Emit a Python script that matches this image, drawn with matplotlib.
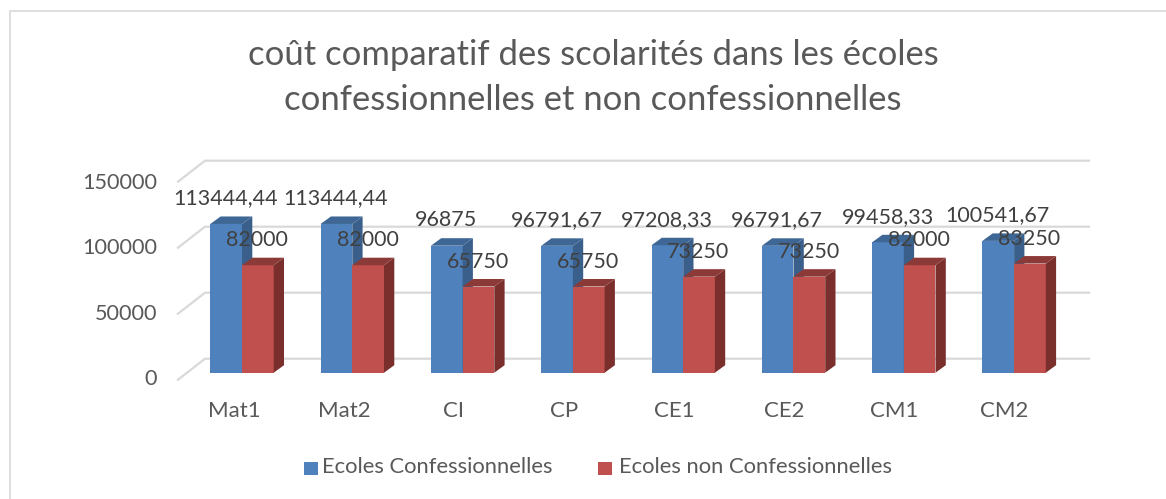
import matplotlib
matplotlib.use("Agg")
import matplotlib.pyplot as plt
from matplotlib.patches import Polygon, Rectangle

categories = ["Mat1", "Mat2", "CI", "CP", "CE1", "CE2", "CM1", "CM2"]
confessionnelles = [113444.44, 113444.44, 96875, 96791.67, 97208.33, 96791.67, 99458.33, 100541.67]
non_confessionnelles = [82000, 82000, 65750, 65750, 73250, 73250, 82000, 83250]
confessionnelles_txt = ["113444,44", "113444,44", "96875", "96791,67", "97208,33", "96791,67", "99458,33", "100541,67"]
non_confessionnelles_txt = ["82000", "82000", "65750", "65750", "73250", "73250", "82000", "83250"]
y_ticks = [0, 50000, 100000, 150000]

W, H = 1166, 499
TXT = "#595959"
LABEL = "#404040"
GRID = "#D9D9D9"
BLUE = ("#4F81BD", "#3A5F8B", "#3E6795")
RED = ("#C0504D", "#7A2F2D", "#8C3A38")

PX_X = 110.3          # pixels per category
PX_Y = 1.311 / 1000   # pixels per unit
X0 = 242              # pixel of first group's centre
Y0 = 372.7            # pixel of bar floor
BAR = 31.7 / PX_X
DX = 10.3 / PX_X      # depth offset of the bars
DY = 7.5 / PX_Y

plt.rcParams["font.family"] = ["Lato", "DejaVu Sans"]

fig = plt.figure(figsize=(W / 100, H / 100), dpi=100)
ax = fig.add_axes([0, 0, 1, 1])
ax.set_xlim(-X0 / PX_X, (W - X0) / PX_X)
ax.set_ylim(-(H - Y0) / PX_Y, Y0 / PX_Y)
ax.axis("off")


def px(x, y):
    return (x - X0) / PX_X, (Y0 - y) / PX_Y


# outer frame, only left and top are in the picture
ax.plot(*zip(px(9.5, H + 5), px(9.5, 11), px(W + 5, 11)), color="#DEDEDE", lw=1.4)

# walls
for tick in y_ticks:
    back_y = 358.7 - tick * 1.32 / 1000
    front = px(178, back_y + 21)
    corner = px(205, back_y)
    end = px(1089, back_y)
    ax.plot(*zip(front, corner, end), color=GRID, lw=1.6, zorder=1)
    tx, ty = px(157, 379 - tick * 1.307 / 1000)
    ax.text(tx, ty, str(tick), ha="right", va="center", fontsize=15.6, color=TXT)


def bar3d(left, value, colors, zorder):
    ax.bar(left, value, BAR, align="edge", color=colors[0], lw=0, zorder=zorder)
    right = left + BAR
    ax.add_patch(Polygon([(right, 0), (right + DX, DY), (right + DX, value + DY), (right, value)],
                         color=colors[1], lw=0, zorder=zorder))
    ax.add_patch(Polygon([(left, value), (left + DX, value + DY), (right + DX, value + DY), (right, value)],
                         color=colors[2], lw=0, zorder=zorder))


for i, name in enumerate(categories):
    bar3d(i - BAR, confessionnelles[i], BLUE, 3)
    bar3d(i, non_confessionnelles[i], RED, 4)
    tx, ty = px(234 + i * 110, 411)
    ax.text(tx, ty, name, ha="center", va="center", fontsize=16, color=TXT, zorder=6)

# data labels sit above the bars, overlapping like the original
for i in range(len(categories)):
    ax.text(i - BAR + 15.5 / PX_X, confessionnelles[i] + DY + 18 / PX_Y, confessionnelles_txt[i],
            ha="center", va="center", fontsize=15.5, color=LABEL, zorder=7)
    ax.text(i + BAR * 0.48, non_confessionnelles[i] + DY + 17.5 / PX_Y, non_confessionnelles_txt[i],
            ha="center", va="center", fontsize=15.5, color=LABEL, zorder=7)

# title
tx, ty = px(593, 55)
ax.text(tx, ty, "coût comparatif des scolarités dans les écoles", ha="center", va="center", fontsize=24.9, color=TXT)
tx, ty = px(593, 100.5)
ax.text(tx, ty, "confessionnelles et non confessionnelles", ha="center", va="center", fontsize=24.9, color=TXT)

# legend
for sx, tx_px, colour, label in [(304, 322, BLUE[0], "Ecoles Confessionnelles"),
                                 (598, 619, RED[0], "Ecoles non Confessionnelles")]:
    lx, ly = px(sx, 475)
    ax.add_patch(Rectangle((lx, ly), 13.5 / PX_X, 13.5 / PX_Y, color=colour, lw=0))
    tx, ty = px(tx_px, 467)
    ax.text(tx, ty, label, ha="left", va="center", fontsize=15.8, color=TXT)

fig.savefig("out.png", dpi=100)
